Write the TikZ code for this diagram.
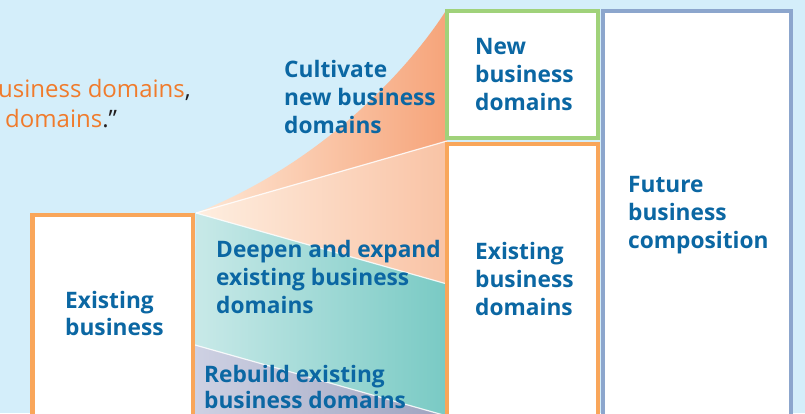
\documentclass[tikz,border=0pt]{standalone}
\usepackage{fontspec}
\setmainfont{Open Sans}
\begin{document}
\definecolor{bgblue}{HTML}{D4EEFA}
\definecolor{boxorange}{HTML}{F9A65A}
\definecolor{boxgreen}{HTML}{A0D27A}
\definecolor{boxslate}{HTML}{8CA6CD}
\definecolor{labelblue}{HTML}{0B67A3}
\definecolor{quoteorange}{HTML}{F07B2C}
\definecolor{quotedark}{HTML}{231F20}
\definecolor{newL}{HTML}{FEE8D6}
\definecolor{newR}{HTML}{F6A47A}
\definecolor{deepL}{HTML}{FEEEE0}
\definecolor{deepR}{HTML}{F9C3A5}
\definecolor{tealL}{HTML}{C8E9E8}
\definecolor{tealR}{HTML}{79CAC4}
\definecolor{greyL}{HTML}{CED1E3}
\definecolor{greyR}{HTML}{9EA3BF}
\begin{tikzpicture}[x=1pt,y=-1pt,
  % anchor base west sits on the baseline of the last line
  label text/.style={text=labelblue,font=\fontsize{22.7}{28}\selectfont\bfseries,
    align=left,anchor=base west,inner sep=0pt},
  quote text/.style={font=\fontsize{24}{30}\selectfont,inner sep=0pt},
  domainbox/.style={draw=#1,line width=4.3pt,fill=white},
  separator/.style={draw=white,line width=1.2pt,opacity=0.85}]
% canvas
\useasboundingbox (0,0) rectangle (805,413);
\clip (0,0) rectangle (805,413);
\fill[bgblue] (0,0) rectangle (805,413);

% key points of the fan
\coordinate (apex) at (196,213);
\coordinate (newtop) at (447,9);
\coordinate (newbot) at (447,141);
\coordinate (deepbot) at (447,284);
\coordinate (rebL) at (195,345);
\coordinate (rebR) at (447,416);

% fan of strategies
\path[left color=newL,right color=newR]
  (apex) .. controls (330,160) and (415,60) .. (newtop) -- (newbot) -- cycle;
\path[left color=deepL,right color=deepR]
  (apex) -- (newbot) -- (deepbot) -- cycle;
\path[left color=tealL,right color=tealR]
  (apex) -- (deepbot) -- (rebR) -- (rebL) -- cycle;
\path[left color=greyL,right color=greyR]
  (rebL) -- (rebR) -- (447,420) -- (195,420) -- cycle;
\path[separator] (apex) -- (newbot);
\path[separator] (apex) -- (deepbot);
\path[separator] (rebL) -- (rebR);

% boxes
\path[domainbox=boxorange,line width=4.5pt] (32.5,215) rectangle (193,425);
\path[domainbox=boxgreen] (447,11) rectangle (598,138);
\path[domainbox=boxorange] (447,144) rectangle (598,425);
\path[domainbox=boxslate,line width=4pt] (602.5,11) rectangle (790.5,425);

% quotation
\node[quote text,anchor=base east] (quoteA) at (191,97)
  {\textcolor{quoteorange}{business domains}\textcolor{quotedark}{,}};
\node[quote text,anchor=base west] (quoteB) at (5,127)
  {\textcolor{quoteorange}{domains}\textcolor{quotedark}{.”}};

% labels
\node[label text] (cultivate) at (284,133) {Cultivate\\new business\\domains};
\node[label text] (newdom) at (475,110) {New\\business\\domains};
\node[label text] (exdom) at (475,315) {Existing\\business\\domains};
\node[label text] (future) at (628,248) {Future\\business\\composition};
\node[label text,font=\fontsize{22.7}{27}\selectfont\bfseries] (exbiz) at (65,335) {Existing\\business};
\node[label text] (deepen) at (216,313) {Deepen and expand\\existing business\\domains};
\node[label text,font=\fontsize{22.7}{26}\selectfont\bfseries] (rebuild) at (204,408) {Rebuild existing\\business domains};
\end{tikzpicture}
\end{document}
